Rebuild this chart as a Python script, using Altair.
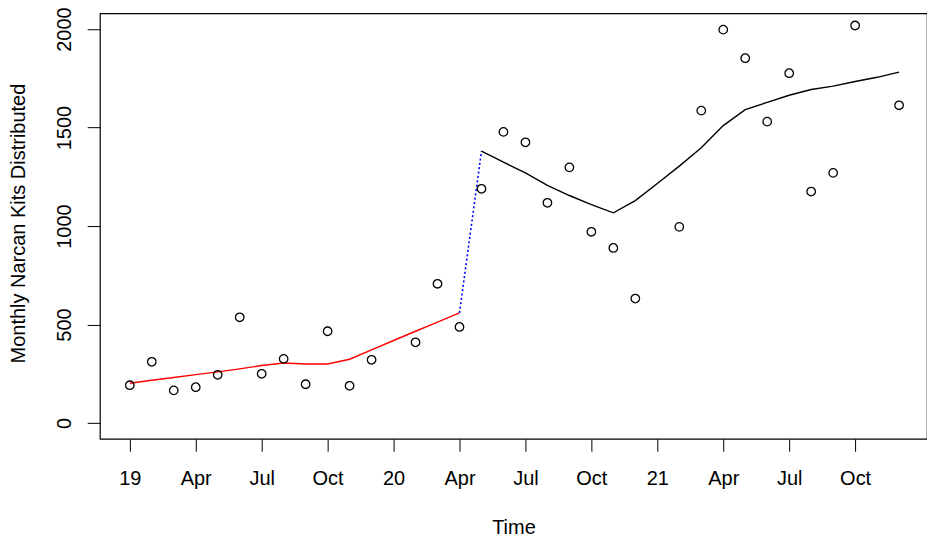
import altair as alt
import pandas as pd
import numpy as np

# month index 0 = Jan 2019 ... 35 = Dec 2021
months = list(range(36))
observed = [192, 311, 166, 182, 245, 537, 250, 326, 197, 466, 189, 321,
            None, 410, 707, 488, 1189, 1478, 1425, 1118, 1298, 971, 889, 632,
            None, 996, 1586, 1997, 1852, 1530, 1776, 1175, 1270, 2018, None, 1613]
fitted = [202, 217, 231, 246, 260, 275, 292, 305, 300, 300, 324, 371,
          419, 466, 512, 559, 1380, 1324, 1270, 1206, 1155, 1109, 1067, 1129,
          1216, 1304, 1397, 1510, 1591, 1628, 1664, 1693, 1710, 1734, 1755, 1781]
tick_months = [0, 3, 6, 9, 12, 15, 18, 21, 24, 27, 30, 33]
tick_labels = ["19", "Apr", "Jul", "Oct", "20", "Apr", "Jul", "Oct", "21", "Apr", "Jul", "Oct"]
y_ticks = [0, 500, 1000, 1500, 2000]

pts = pd.DataFrame({"month": months, "value": observed}).dropna()
fit = pd.DataFrame({"month": months, "value": fitted})
pre = fit[fit.month <= 15]
jump = fit[(fit.month >= 15) & (fit.month <= 16)]
post = fit[fit.month >= 16]

FONT = "Liberation Sans"
label_arr = "[" + ",".join("'%s'" % s for s in tick_labels) + "]"

x_enc = alt.X("month:Q",
              scale=alt.Scale(domain=[-1.36, 36.27], nice=False, zero=False),
              axis=alt.Axis(values=tick_months,
                            labelExpr=label_arr + "[round(datum.value/3)]",
                            grid=False, domain=False, ticks=True,
                            tickColor="black", tickSize=12.4, tickWidth=1,
                            labelFont=FONT, labelFontSize=20, labelColor="black",
                            labelBaseline="alphabetic", labelPadding=33.3,
                            labelFlush=False, labelOverlap=False,
                            title="Time", titleFont=FONT, titleFontSize=20,
                            titleFontWeight="normal", titleColor="black",
                            titleX=414, titleY=95, titleBaseline="alphabetic",
                            titleAlign="center"))
y_enc = alt.Y("value:Q",
              scale=alt.Scale(domain=[-80, 2080], nice=False, zero=False),
              axis=alt.Axis(values=y_ticks, format="d", grid=False, domain=False, ticks=True,
                            tickColor="black", tickSize=12.7, tickWidth=1,
                            labelFont=FONT, labelFontSize=20, labelColor="black",
                            labelAngle=270, labelAlign="center",
                            labelBaseline="alphabetic", labelPadding=16.3,
                            labelFlush=False, labelOverlap=False,
                            title="Monthly Narcan Kits Distributed",
                            titleFont=FONT, titleFontSize=20,
                            titleFontWeight="normal", titleColor="black",
                            titleAngle=270, titleX=-75, titleY=210,
                            titleBaseline="alphabetic", titleAlign="center"))

points = alt.Chart(pts).mark_point(shape="circle", filled=False, color="black",
                                   size=72, strokeWidth=1.3, opacity=1).encode(x=x_enc, y=y_enc)
red = alt.Chart(pre).mark_line(color="#ff0000", strokeWidth=1.4).encode(x="month:Q", y="value:Q")
blue = alt.Chart(jump).mark_line(color="#0000ff", strokeWidth=1.6,
                                 strokeDash=[2, 2.4]).encode(x="month:Q", y="value:Q")
black = alt.Chart(post).mark_line(color="black", strokeWidth=1.4).encode(x="month:Q", y="value:Q")

chart = alt.layer(red, blue, black, points).properties(
    width=828, height=426,
    padding={"left": 92, "top": 5, "right": 0, "bottom": 100},
    autosize=alt.AutoSizeParams(type="none"),
).configure(background="white",
            view=alt.ViewConfig(stroke="black", strokeWidth=1.2))

chart.save("out.html", embed_options={"renderer": "svg", "actions": False})
